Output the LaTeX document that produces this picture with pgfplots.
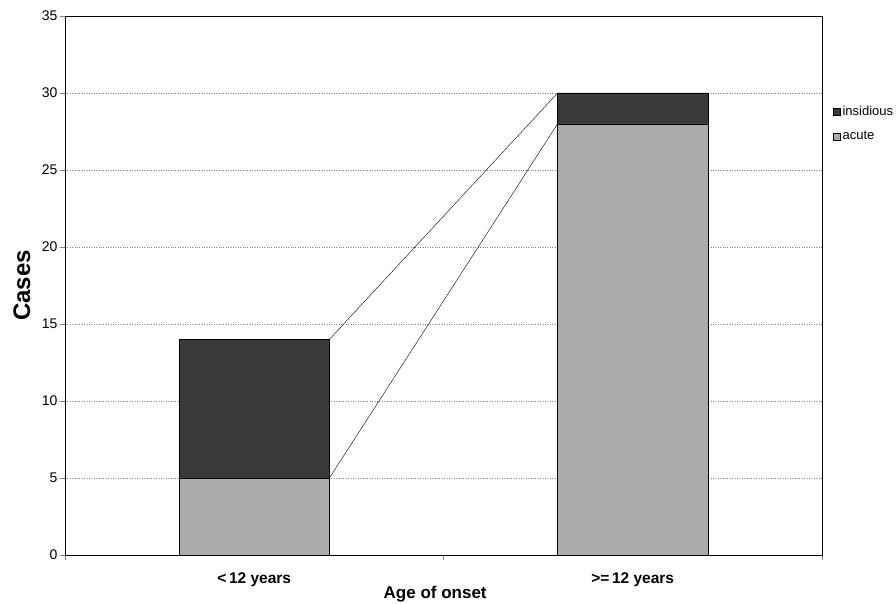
\documentclass[border=0pt]{standalone}
\usepackage{pgfplots}
\pgfplotsset{compat=1.18}
\usepackage{fontspec}
\setmainfont{Liberation Sans}
\definecolor{insid}{HTML}{3A3A3A}
\definecolor{acut}{HTML}{ABABAB}
\begin{document}
\begin{tikzpicture}
\path[use as bounding box] (-65pt,-48pt) rectangle (831pt,555pt);
\begin{axis}[
  at={(0,0)}, anchor=south west,
  scale only axis, width=757pt, height=539pt,
  ybar stacked, bar width=0.397,
  xmin=-0.5, xmax=1.5, ymin=0, ymax=35,
  ytick={0,5,...,35},
  xtick={0,1}, xticklabels={{\bfseries <\,12 years},{\bfseries >=\,12 years}},
  minor xtick={-0.5,0.5,1.5},
  tick align=outside, xtick pos=bottom, ytick pos=left,
  major x tick style={draw=none},
  minor tick length=5pt, major tick length=5pt,
  ymajorgrids, grid style={dotted, gray},
  /pgf/number format/assume math mode=true,
  yticklabel style={font=\fontsize{14}{16}\selectfont, xshift=1pt},
  xticklabel style={font=\fontsize{15.5}{17}\selectfont, yshift=-9pt},
  axis line style={black},
  ylabel={\bfseries Cases}, ylabel style={font=\fontsize{24}{27}\selectfont, at={(axis description cs:-0.057,0.5)}, anchor=center},
  xlabel={\bfseries Age of onset}, xlabel style={font=\fontsize{17}{20}\selectfont, at={(axis description cs:0.489,-0.072)}, anchor=center},
  legend style={draw=none, fill=none, at={(axis description cs:1.0145,0.80)}, anchor=west, font=\fontsize{13}{15}\selectfont, row sep=10pt, inner xsep=0pt, inner ysep=0pt, /tikz/every even column/.append style={column sep=0pt}},
  legend image code/.code={\draw[#1, draw=black] (0pt,-3.5pt) rectangle (7pt,3.5pt);},
  legend cell align=left, reverse legend,
]
\addplot[fill=acut, draw=black] coordinates {(0,5) (1,28)};
\addplot[fill=insid, draw=black] coordinates {(0,9) (1,2)};
\legend{acute, insidious}
\end{axis}
\begin{axis}[
  at={(0,0)}, anchor=south west,
  scale only axis, width=757pt, height=539pt,
  xmin=-0.5, xmax=1.5, ymin=0, ymax=35, axis lines=none,
]
\addplot[black, thin, mark=none] coordinates {(0.1985,14) (0.8015,30)};
\addplot[black, thin, mark=none] coordinates {(0.1985,5) (0.8015,28)};
\end{axis}
\end{tikzpicture}
\end{document}
